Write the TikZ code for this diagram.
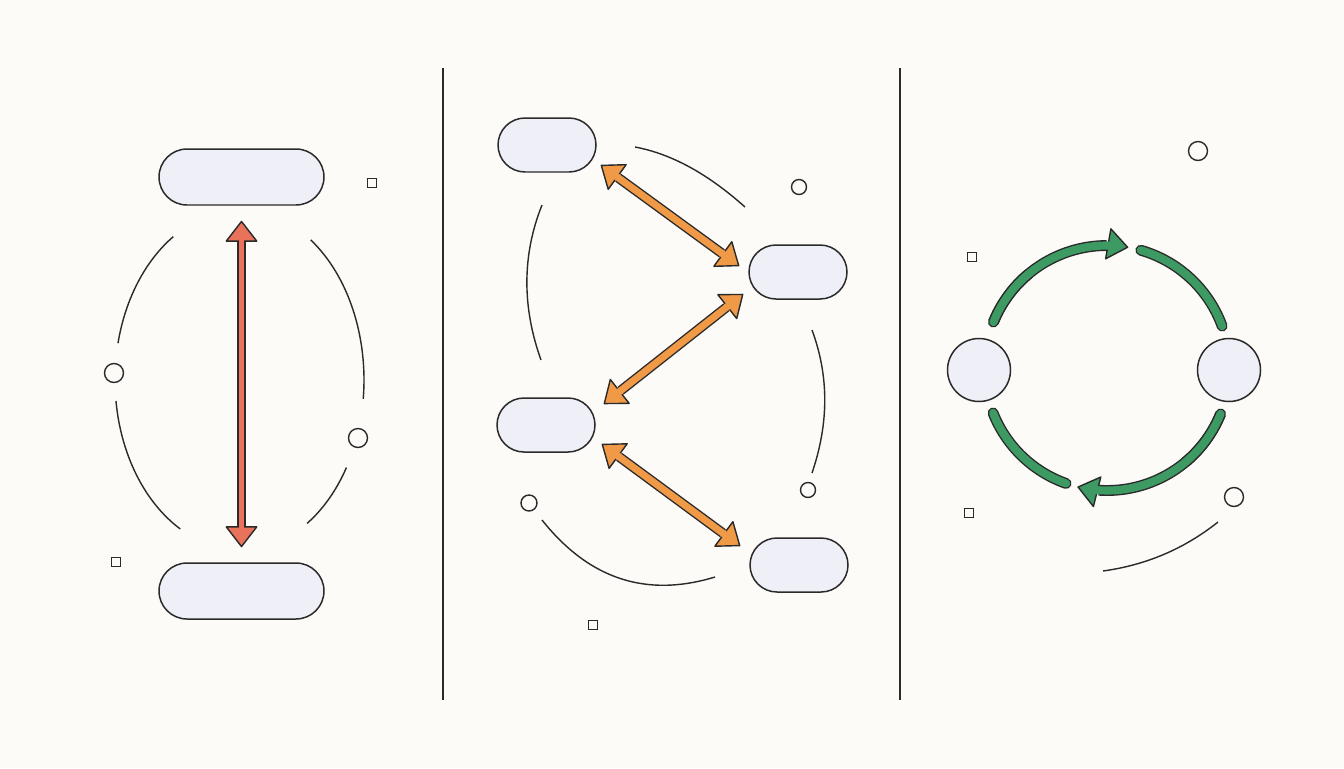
\documentclass[tikz,border=0pt]{standalone}
\usepackage{tikz}
\usetikzlibrary{arrows.meta,shapes.misc}

\definecolor{paper}{HTML}{FCFBF8}
\definecolor{ink}{HTML}{2A2A2A}
\definecolor{pillfill}{HTML}{EFF0F7}
\definecolor{redarrow}{HTML}{E8725A}
\definecolor{orangearrow}{HTML}{F09A48}
\definecolor{greenarrow}{HTML}{3C9A62}

\tikzset{
  pill/.style={rounded rectangle, draw=ink, fill=pillfill, line width=0.85pt, inner sep=0pt},
  widepill/.style={pill, minimum width=3.3cm, minimum height=1.12cm},
  shortpill/.style={pill, minimum width=1.96cm, minimum height=1.08cm},
  disc/.style={circle, draw=ink, fill=pillfill, line width=0.85pt, inner sep=0pt, minimum size=1.26cm},
  spot/.style={circle, draw=ink, line width=0.8pt, inner sep=0pt, minimum size=#1},
  tinybox/.style={rectangle, draw=ink, line width=0.75pt, inner sep=0pt, minimum size=0.19cm},
  sketch/.style={draw=ink, line width=0.8pt},
  divider/.style={draw=ink, line width=0.85pt},
  tips/.style={draw=ink, line width=0.8pt, {Triangle[width=0.66cm,length=0.43cm,round,fill=#1]}-{Triangle[width=0.66cm,length=0.43cm,round,fill=#1]}},
  tip/.style={draw=ink, line width=0.8pt, -{Triangle[width=0.66cm,length=0.43cm,round,fill=#1]}},
  shaftout/.style={draw=ink, line width=#1},
  shaftin/.style={draw=#1},
  greenout/.style={draw=ink, line width=6.2pt},
  greenin/.style={draw=greenarrow, line width=4.6pt, line cap=round},
}

\begin{document}
\begin{tikzpicture}[x=0.02cm, y=-0.02cm]
%% canvas, pixel units
\fill[paper] (0,0) rectangle (1344,768);
\useasboundingbox (0,0) rectangle (1344,768);

\draw[divider] (443,68) -- (443,700);
\draw[divider] (900,68) -- (900,700);

%% panel one
\node[widepill] (upper) at (241.5,177) {};
\node[widepill] (lower) at (241.5,591) {};
\coordinate (oval) at (241,380);
\draw[sketch] ([shift={(237.5:126 and 170)}]oval) arc[start angle=237.5, end angle=192.5, x radius=126, y radius=170];
\draw[sketch] ([shift={(172.9:126 and 170)}]oval) arc[start angle=172.9, end angle=118.8, x radius=126, y radius=170];
\draw[sketch] ([shift={(-55.5:123 and 170)}]oval) arc[start angle=-55.5, end angle=6.4, x radius=123, y radius=170];
\draw[sketch] ([shift={(31:123 and 170)}]oval) arc[start angle=31, end angle=57.5, x radius=123, y radius=170];
\node[spot=0.38cm] (sa) at (114,373) {};
\node[spot=0.38cm] (sb) at (358,438) {};
\node[tinybox] (ba) at (372,183) {};
\node[tinybox] (bb) at (116,562) {};

\coordinate (ra) at ([shift={(0,15)}]upper.south);
\coordinate (rb) at ([shift={(0,-15)}]lower.north);
\draw[tips=redarrow] (ra) -- (rb);
\draw[shaftout=5pt, shorten <=0.43cm, shorten >=0.43cm] (ra) -- (rb);
\draw[shaftin=redarrow, line width=3.4pt, shorten <=0.37cm, shorten >=0.37cm] (ra) -- (rb);

%% panel two
\node[shortpill] (topleft) at (547,145) {};
\node[shortpill] (midright) at (798,272) {};
\node[shortpill] (midleft) at (546,425) {};
\node[shortpill] (lowright) at (799,565) {};
\draw[sketch] (635,147) .. controls (672,154) and (708,174) .. (745,207);
\draw[sketch] (542,205) .. controls (522,255) and (522,307) .. (541,360);
\draw[sketch] (812,330) .. controls (829,376) and (829,423) .. (812,473);
\draw[sketch] (542,520) .. controls (589,579) and (646,598) .. (715,577);
\node[spot=0.3cm] (sc) at (799,187) {};
\node[spot=0.3cm] (sd) at (808,490) {};
\node[spot=0.32cm] (se) at (529,503) {};
\node[tinybox] (bc) at (593,625) {};

\coordinate (oa) at ([shift={(4,20)}]topleft.east);
\coordinate (ob) at ([shift={(-9,-6)}]midright.west);
\coordinate (oc) at ([shift={(-5,22)}]midright.west);
\coordinate (od) at ([shift={(8,-21)}]midleft.east);
\coordinate (oe) at ([shift={(6,19)}]midleft.east);
\coordinate (of) at ([shift={(-9,-19)}]lowright.west);
\draw[tips=orangearrow] (oa) -- (ob);
\draw[shaftout=5.6pt, shorten <=0.43cm, shorten >=0.43cm] (oa) -- (ob);
\draw[shaftin=orangearrow, line width=4pt, shorten <=0.37cm, shorten >=0.37cm] (oa) -- (ob);
\draw[tips=orangearrow] (oc) -- (od);
\draw[shaftout=5.6pt, shorten <=0.43cm, shorten >=0.43cm] (oc) -- (od);
\draw[shaftin=orangearrow, line width=4pt, shorten <=0.37cm, shorten >=0.37cm] (oc) -- (od);
\draw[tips=orangearrow] (oe) -- (of);
\draw[shaftout=5.6pt, shorten <=0.43cm, shorten >=0.43cm] (oe) -- (of);
\draw[shaftin=orangearrow, line width=4pt, shorten <=0.37cm, shorten >=0.37cm] (oe) -- (of);

%% panel three
\node[disc] (leftdisc) at (979,370) {};
\node[disc] (rightdisc) at (1229,370) {};
\coordinate (hub) at (1107,368);
\draw[sketch] (1103,571) .. controls (1146,565) and (1184,549) .. (1218,522);
\node[spot=0.38cm] (sf) at (1198,151) {};
\node[spot=0.38cm] (sg) at (1234,497) {};
\node[tinybox] (bd) at (972,257) {};
\node[tinybox] (be) at (969,513) {};

% top arc, left to top (tip at 280)
\draw[tip=greenarrow] ([shift={(202:122.5)}]hub) arc[start angle=202, end angle=280, radius=122.5];
\draw[greenout] ([shift={(202:122.5)}]hub) arc[start angle=202, end angle=269.9, radius=122.5];
\draw[greenout, line cap=round] ([shift={(202:122.5)}]hub) arc[start angle=202, end angle=230, radius=122.5];
\draw[greenin] ([shift={(202:122.5)}]hub) arc[start angle=202, end angle=271.3, radius=122.5];
% top right
\draw[greenout, line cap=round] ([shift={(-74:122.5)}]hub) arc[start angle=-74, end angle=-20, radius=122.5];
\draw[greenin] ([shift={(-74:122.5)}]hub) arc[start angle=-74, end angle=-20, radius=122.5];
% bottom arc, right to bottom (tip at 104)
\draw[tip=greenarrow] ([shift={(22:122.5)}]hub) arc[start angle=22, end angle=104, radius=122.5];
\draw[greenout] ([shift={(22:122.5)}]hub) arc[start angle=22, end angle=93.9, radius=122.5];
\draw[greenout, line cap=round] ([shift={(22:122.5)}]hub) arc[start angle=22, end angle=50, radius=122.5];
\draw[greenin] ([shift={(22:122.5)}]hub) arc[start angle=22, end angle=95.3, radius=122.5];
% bottom left
\draw[greenout, line cap=round] ([shift={(158.5:122.5)}]hub) arc[start angle=158.5, end angle=109.5, radius=122.5];
\draw[greenin] ([shift={(158.5:122.5)}]hub) arc[start angle=158.5, end angle=109.5, radius=122.5];
\end{tikzpicture}
\end{document}
